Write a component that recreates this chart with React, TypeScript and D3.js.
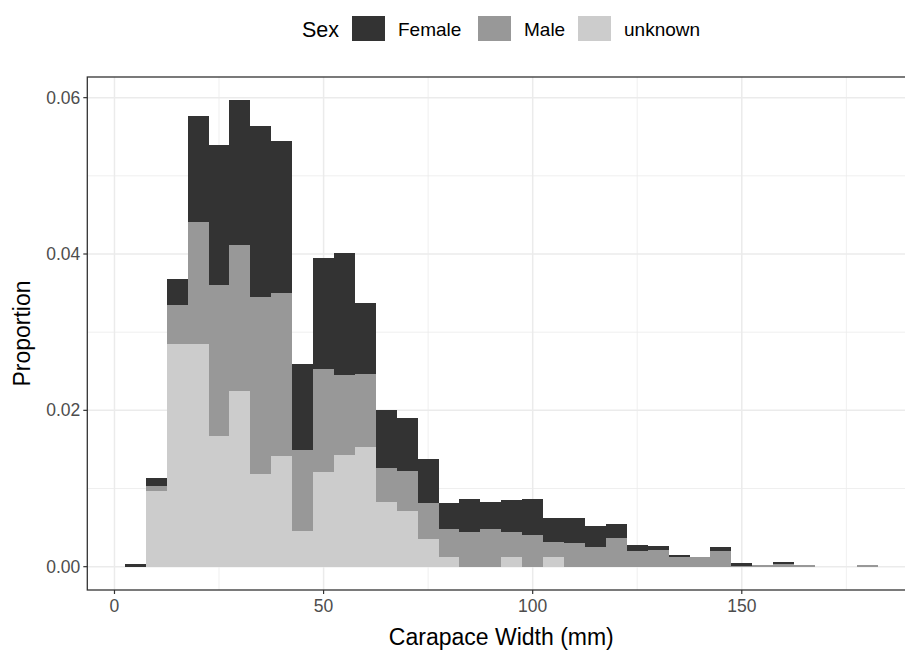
import React from "react";
import * as d3 from "d3";

// bin centres (binwidth 5)
const binMids = [5, 10, 15, 20, 25, 30, 35, 40, 45, 50, 55, 60, 65, 70, 75, 80, 85, 90,
  95, 100, 105, 110, 115, 120, 125, 130, 135, 140, 145, 150, 155, 160, 165, 170, 175, 180];

const female = [0.0003, 0.00099, 0.0033, 0.01346, 0.01797, 0.01851, 0.02196, 0.01936, 0.01103,
  0.01409, 0.01568, 0.00898, 0.00742, 0.0068, 0.00564, 0.00337, 0.00428, 0.00342, 0.00415,
  0.00458, 0.00304, 0.00324, 0.00278, 0.00184, 0.00083, 0.00055, 0.00022, 0.0001, 0.00043,
  0.00035, 0, 0.00034, 0, 0, 0, 0];

const male = [0, 0.00072, 0.00495, 0.01559, 0.01933, 0.01867, 0.02256, 0.0209, 0.01025,
  0.01326, 0.01026, 0.0094, 0.00428, 0.00513, 0.00462, 0.00355, 0.0044, 0.00483, 0.00312,
  0.0041, 0.00192, 0.003, 0.00248, 0.00363, 0.00197, 0.0021, 0.00128, 0.0012, 0.00205,
  0.0001, 0.0002, 0.0003, 0.0002, 0, 0, 0.0002];

const unknown = [0, 0.00966, 0.02855, 0.02855, 0.01667, 0.02248, 0.01188, 0.01414, 0.00462,
  0.01209, 0.01423, 0.0153, 0.0083, 0.00709, 0.0035, 0.00128, 0, 0, 0.00128,
  0, 0.00128, 0, 0, 0, 0, 0, 0, 0, 0, 0, 0, 0, 0, 0, 0, 0];

const sexLevels = ["Female", "Male", "unknown"];
const sexColors = ["#333333", "#989898", "#CCCCCC"];

const xTicks = [0, 50, 100, 150];
const xMinor = [25, 75, 125, 175];
const yTicks = [0, 0.02, 0.04, 0.06];
const yMinor = [0.01, 0.03, 0.05];

const binWidth = 5;

export default function App() {
  const W = 905, H = 658;
  const panel = { left: 87.3, top: 77, bottom: 590 };

  const rows = binMids.map((b, i) => ({ bin: b, Female: female[i], Male: male[i], unknown: unknown[i] }));

  // first level ends up on top, like ggplot
  const stack = d3.stack<any>().keys(["unknown", "Male", "Female"]);
  const layers = stack(rows);

  const xLo = binMids[0] - binWidth / 2;
  const xHi = binMids[binMids.length - 1] + binWidth / 2;
  const xPad = (xHi - xLo) * 0.05;
  const pxPerUnit = 4.182;
  const x = d3.scaleLinear()
    .domain([xLo - xPad, xHi + xPad])
    .range([panel.left, panel.left + (xHi - xLo + 2 * xPad) * pxPerUnit]);
  const panelRight = x.range()[1];

  const yMax = d3.max(rows, (d) => d.Female + d.Male + d.unknown) as number;
  const y = d3.scaleLinear()
    .domain([-yMax * 0.05, yMax * 1.05])
    .range([panel.bottom, panel.top]);

  const colorOf = d3.scaleOrdinal<string, string>().domain(sexLevels).range(sexColors);
  const font = "'Liberation Sans', Arial, sans-serif";
  const grid = "#EBEBEB";

  return (
    <svg width={W} height={H} style={{ position: "absolute", left: 0, top: 0, background: "#fff" }} fontFamily={font}>
      <rect x={0} y={0} width={W} height={H} fill="#fff" />
      {/* minor grid */}
      {xMinor.map((t) => (
        <line key={"xm" + t} x1={x(t)} x2={x(t)} y1={panel.top} y2={panel.bottom} stroke={grid} strokeWidth={0.8} />
      ))}
      {yMinor.map((t) => (
        <line key={"ym" + t} x1={panel.left} x2={panelRight} y1={y(t)} y2={y(t)} stroke={grid} strokeWidth={0.8} />
      ))}
      {/* major grid */}
      {xTicks.map((t) => (
        <line key={"xg" + t} x1={x(t)} x2={x(t)} y1={panel.top} y2={panel.bottom} stroke={grid} strokeWidth={1.5} />
      ))}
      {yTicks.map((t) => (
        <line key={"yg" + t} x1={panel.left} x2={panelRight} y1={y(t)} y2={y(t)} stroke={grid} strokeWidth={1.5} />
      ))}

      {/* stacked bars */}
      {layers.map((layer) => (
        <g key={layer.key} fill={colorOf(layer.key)} shapeRendering="crispEdges">
          {layer.map((d, i) => {
            const h = y(d[0]) - y(d[1]);
            if (h <= 0) return null;
            return (
              <rect key={i}
                x={x(d.data.bin - binWidth / 2)}
                width={x(d.data.bin + binWidth / 2) - x(d.data.bin - binWidth / 2)}
                y={y(d[1])}
                height={h} />
            );
          })}
        </g>
      ))}

      {/* panel border */}
      <rect x={panel.left} y={panel.top} width={panelRight - panel.left} height={panel.bottom - panel.top}
        fill="none" stroke="#333333" strokeWidth={1.3} />

      {/* x axis */}
      {xTicks.map((t) => (
        <g key={"xt" + t}>
          <line x1={x(t)} x2={x(t)} y1={panel.bottom} y2={panel.bottom + 4} stroke="#333333" strokeWidth={1.2} />
          <text x={x(t)} y={612} textAnchor="middle" fontSize={17.5} fill="#4D4D4D">{t}</text>
        </g>
      ))}
      {/* y axis */}
      {yTicks.map((t) => (
        <g key={"yt" + t}>
          <line x1={panel.left - 4} x2={panel.left} y1={y(t)} y2={y(t)} stroke="#333333" strokeWidth={1.2} />
          <text x={panel.left - 7} y={y(t)} dy="0.35em" textAnchor="end" fontSize={17.5} fill="#4D4D4D">
            {d3.format(".2f")(t)}
          </text>
        </g>
      ))}

      <text x={(panel.left + panelRight) / 2} y={645} textAnchor="middle" fontSize={23} fill="#000">Carapace Width (mm)</text>
      <text transform={`translate(30,${(panel.top + panel.bottom) / 2}) rotate(-90)`} textAnchor="middle" fontSize={23} fill="#000">Proportion</text>

      {/* legend */}
      <text x={302} y={37} fontSize={21.5} fill="#000">Sex</text>
      {sexLevels.map((s, i) => {
        const kx = [352, 478, 578][i];
        return (
          <g key={s}>
            <rect x={kx} y={16} width={33} height={25} fill={colorOf(s)} />
            <text x={kx + 46} y={35.5} fontSize={19} fill="#000">{s}</text>
          </g>
        );
      })}
    </svg>
  );
}
